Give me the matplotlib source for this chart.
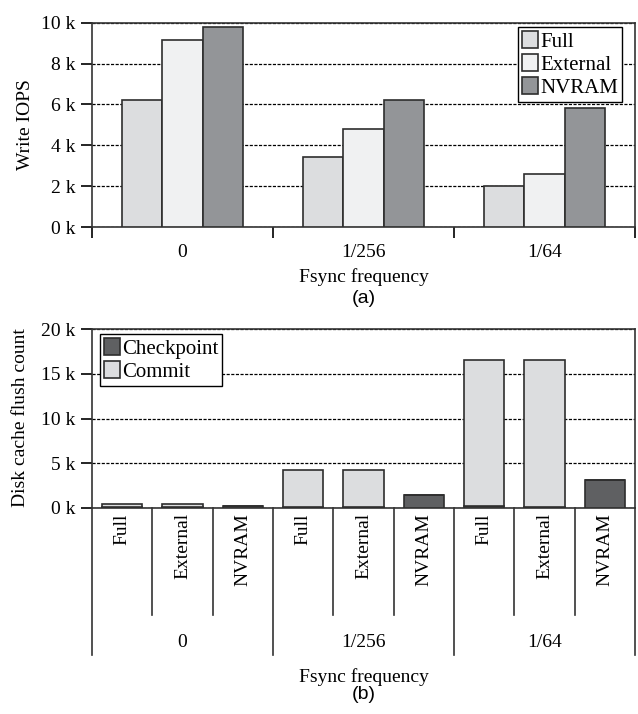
import matplotlib
matplotlib.use('Agg')
import matplotlib.pyplot as plt
import matplotlib.transforms as mtransforms
from matplotlib.ticker import FuncFormatter
import numpy as np

plt.rcParams['font.family'] = ['Liberation Serif', 'DejaVu Serif']
plt.rcParams['font.size'] = 14

# Datos (a): Write IOPS
frecuencias = ['0', '1/256', '1/64']
modos = ['Full', 'External', 'NVRAM']
iops_full = [6240, 3440, 1990]
iops_external = [9160, 4780, 2610]
iops_nvram = [9800, 6230, 5840]

# Datos (b): flush count, orden Full/External/NVRAM por cada frecuencia
checkpoint = [150, 150, 250, 150, 150, 1480, 200, 150, 3150]
commit = [350, 350, 0, 4070, 4110, 0, 16360, 16410, 0]

col_modos = ['#dcdddf', '#f0f1f2', '#939598']
col_checkpoint = '#5f6062'
col_commit = '#dcdddf'
borde = '#2e2e2e'

fmt_k = FuncFormatter(lambda v, p: '%d k' % round(v / 1000))
opts_leg = dict(fancybox=False, edgecolor='black', framealpha=1, handlelength=0.75,
                handleheight=0.9, handletextpad=0.1, labelspacing=0.1, borderpad=0.2,
                borderaxespad=0, fontsize=15)

fig = plt.figure(figsize=(6.38, 7.14), dpi=100)

# ---------- (a) ----------
ax1 = fig.add_axes([92 / 638, 1 - 227 / 714, 543 / 638, 204.3 / 714])
x = np.arange(len(frecuencias))
w = 2 / 9
series = [iops_full, iops_external, iops_nvram]
for i, (vals, c, lab) in enumerate(zip(series, col_modos, modos)):
    ax1.bar(x + (i - 1) * w, vals, w, color=c, edgecolor=borde, linewidth=1.2,
            label=lab, zorder=3)
ax1.set_xlim(-0.5, 2.5)
ax1.set_ylim(0, 10000)
ax1.set_yticks(np.arange(0, 10001, 2000))
ax1.yaxis.set_major_formatter(fmt_k)
ax1.set_xticks(x)
ax1.set_xticklabels(frecuencias)
ax1.set_xticks(np.arange(-0.5, 3, 1), minor=True)
ax1.tick_params(axis='x', which='major', length=0, pad=12)
ax1.tick_params(axis='x', which='minor', length=8, direction='out', width=1.2)
ax1.tick_params(axis='y', length=8, width=1.2, pad=4)
ax1.yaxis.grid(True, linestyle=(0, (2.5, 1.2)), color='black', linewidth=0.9, zorder=0)
ax1.set_axisbelow(True)
for s in ax1.spines.values():
    s.set_color('#333333')
    s.set_linewidth(1.2)
ax1.text(0.5, -0.245, 'Fsync frequency', transform=ax1.transAxes, ha='center', va='center')
ax1.text(0.5, -0.35, '(a)', transform=ax1.transAxes, ha='center', va='center',
         family=['Liberation Sans', 'DejaVu Sans'])
fig.text(26 / 638, 1 - 125 / 714, 'Write IOPS', rotation=90, ha='center', va='center')
leg1 = ax1.legend(loc='upper right', bbox_to_anchor=(0.976, 0.979), **opts_leg)
leg1.get_frame().set_linewidth(1.0)

# ---------- (b) ----------
ax2 = fig.add_axes([92 / 638, 1 - 508 / 714, 543 / 638, 179 / 714])
pos = np.arange(len(checkpoint))
ax2.bar(pos, checkpoint, 2 / 3, color=col_checkpoint, edgecolor=borde, linewidth=1.2,
        label='Checkpoint', zorder=3)
ax2.bar(pos, commit, 2 / 3, bottom=checkpoint, color=col_commit, edgecolor=borde,
        linewidth=1.2, label='Commit', zorder=3)
ax2.set_xlim(-0.5, len(pos) - 0.5)
ax2.set_ylim(0, 20000)
ax2.set_yticks(np.arange(0, 20001, 5000))
ax2.yaxis.set_major_formatter(fmt_k)
ax2.set_xticks([])
ax2.tick_params(axis='y', length=8, width=1.2, pad=4)
ax2.yaxis.grid(True, linestyle=(0, (2.5, 1.2)), color='black', linewidth=0.9, zorder=0)
ax2.set_axisbelow(True)
for s in ax2.spines.values():
    s.set_color('#333333')
    s.set_linewidth(1.2)

trans = mtransforms.blended_transform_factory(ax2.transData, ax2.transAxes)
etiquetas = [m for f in frecuencias for m in modos]
for p, lab in zip(pos, etiquetas):
    ax2.text(p, -0.03, lab, transform=trans, rotation=90, ha='center', va='top')
# separadores internos y de grupo
for b in np.arange(-0.5, len(pos), 1):
    if (b + 0.5) % 3 == 0:
        ax2.plot([b, b], [0, -0.821], transform=trans, color='#333333', lw=1.2, clip_on=False)
    else:
        ax2.plot([b, b], [0, -0.598], transform=trans, color='#333333', lw=1.2, clip_on=False)
for g, f in enumerate(frecuencias):
    ax2.text(3 * g + 1, -0.754, f, transform=trans, ha='center', va='center')
ax2.text(0.5, -0.944, 'Fsync frequency', transform=ax2.transAxes, ha='center', va='center')
ax2.text(0.5, -1.04, '(b)', transform=ax2.transAxes, ha='center', va='center',
         family=['Liberation Sans', 'DejaVu Sans'])
fig.text(21 / 638, 1 - 418 / 714, 'Disk cache flush count', rotation=90, ha='center', va='center')
leg2 = ax2.legend(loc='upper left', bbox_to_anchor=(0.0147, 0.972), **opts_leg)
leg2.get_frame().set_linewidth(1.0)

fig.savefig('out.png', dpi=100)
